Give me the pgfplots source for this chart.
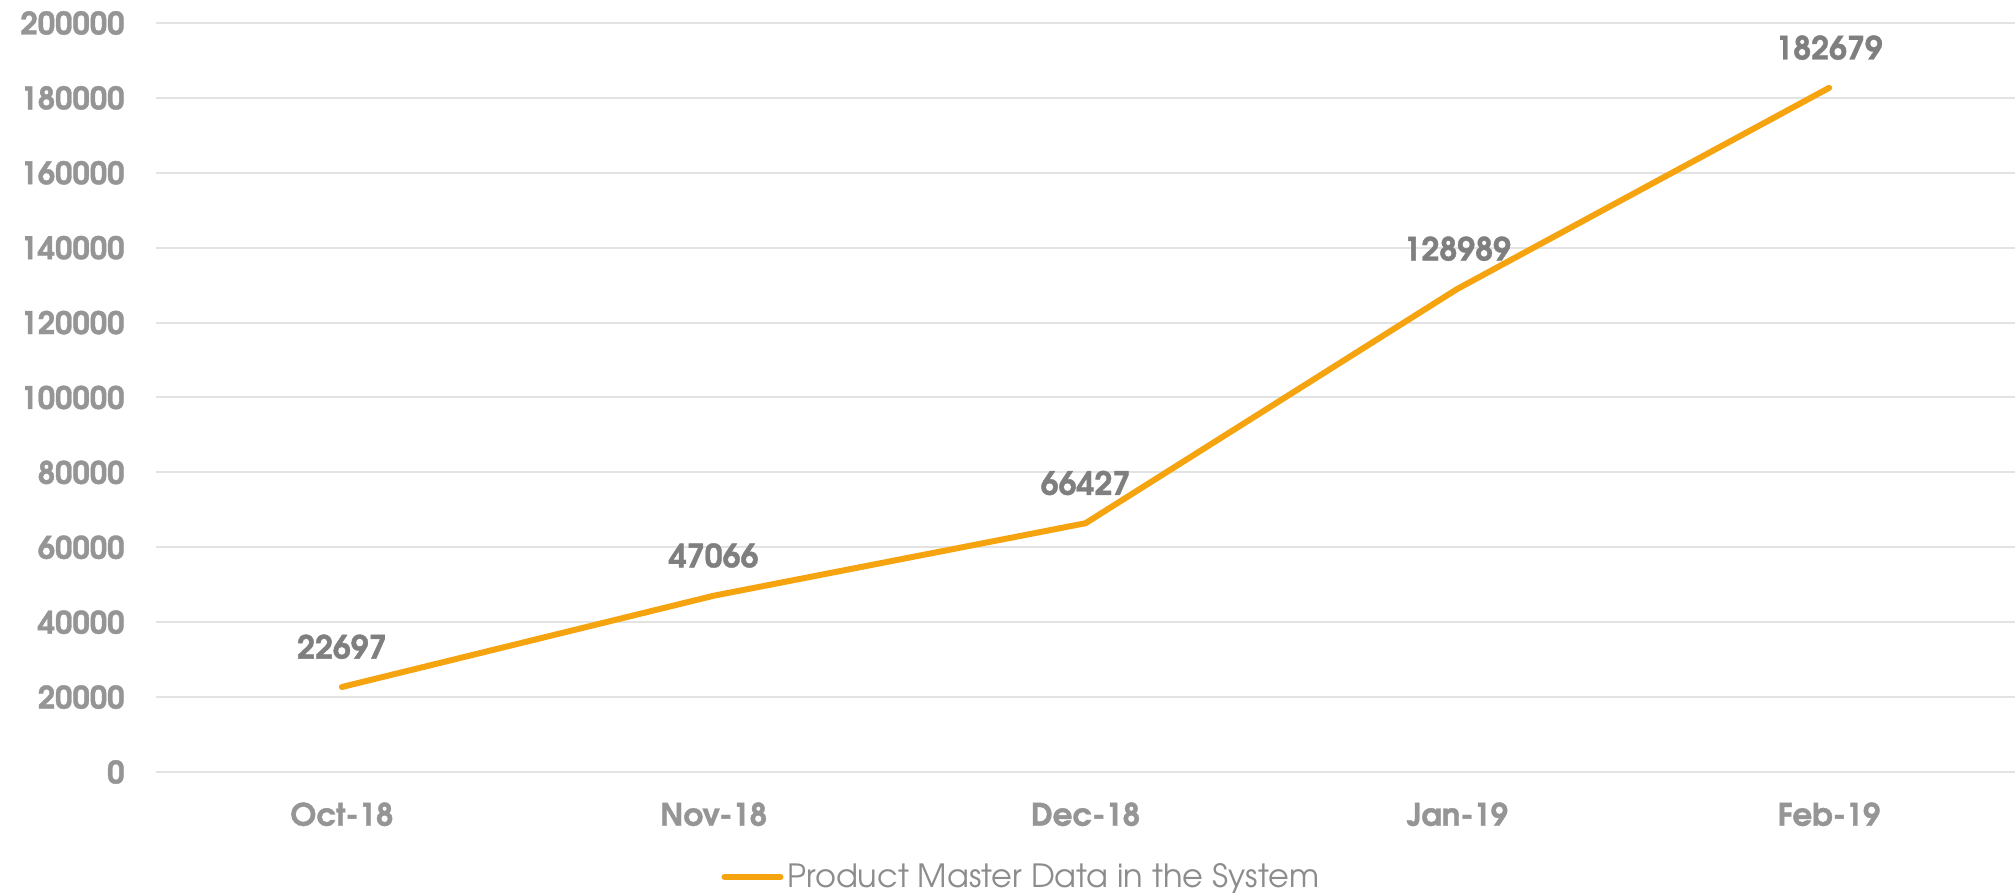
\documentclass[border=0pt]{standalone}
\usepackage{fontspec}
\setmainfont{texgyreadventor}[Extension=.otf, UprightFont=*-regular, BoldFont=*-bold, BoldFeatures={FakeBold=1.2}]
\usepackage{pgfplots}
\pgfplotsset{compat=1.18}
\definecolor{lineorange}{HTML}{F5A30F}
\definecolor{tickgray}{HTML}{959595}
\definecolor{labelgray}{HTML}{7F7F7F}
\definecolor{gridgray}{HTML}{E3E3E3}
\definecolor{legendgray}{HTML}{8C8C8C}
\pgfplotstableread{
x y lab
0 22697 22697
1 47066 47066
2 66427 66427
3 128989 128989
4 182679 182679
}\datatable
\begin{document}
\begin{tikzpicture}
\begin{axis}[
  at={(0,0)}, anchor=south west,
  scale only axis, width=929.5bp, height=374.5bp,
  xmin=-0.5, xmax=4.5, ymin=0, ymax=200000,
  ytick={0,20000,40000,60000,80000,100000,120000,140000,160000,180000,200000},
  yticklabels={0,20000,40000,60000,80000,100000,120000,140000,160000,180000,200000},
  xtick={0,1,2,3,4},
  xticklabels={Oct-18,Nov-18,Dec-18,Jan-19,Feb-19},
  axis line style={draw=none},
  major tick length=0pt,
  ymajorgrids,
  grid style={draw=gridgray, line width=1bp},
  scaled y ticks=false,
  yticklabel style={font=\fontsize{15.5bp}{17bp}\selectfont\bfseries, text=tickgray, inner sep=0pt, xshift=-15.5bp},
  xticklabel style={font=\fontsize{15.5bp}{17bp}\selectfont\bfseries, text=tickgray, inner sep=0pt, yshift=-15bp, anchor=north},
  legend style={at={(0.466,0)}, anchor=center, yshift=-52.5bp, draw=none, fill=none,
    font=\fontsize{16bp}{18bp}\selectfont, text=legendgray, inner sep=0pt},
  legend image code/.code={\draw[#1] (0bp,0bp) -- (28bp,0bp);},
  clip=false,
]
\addplot[lineorange, line width=3bp, line join=round, line cap=round,
  nodes near coords, point meta=explicit symbolic,
  every node near coord/.append style={font=\fontsize{16bp}{18bp}\selectfont\bfseries, text=labelgray, anchor=south, inner sep=0pt, yshift=12.5bp}]
  table[x=x, y=y, meta=lab] {\datatable};
\addlegendentry{Product Master Data in the System}
\end{axis}
\pgfresetboundingbox
\path (-78bp,-60.5bp) rectangle (929.5bp,386bp);
\end{tikzpicture}
\end{document}
